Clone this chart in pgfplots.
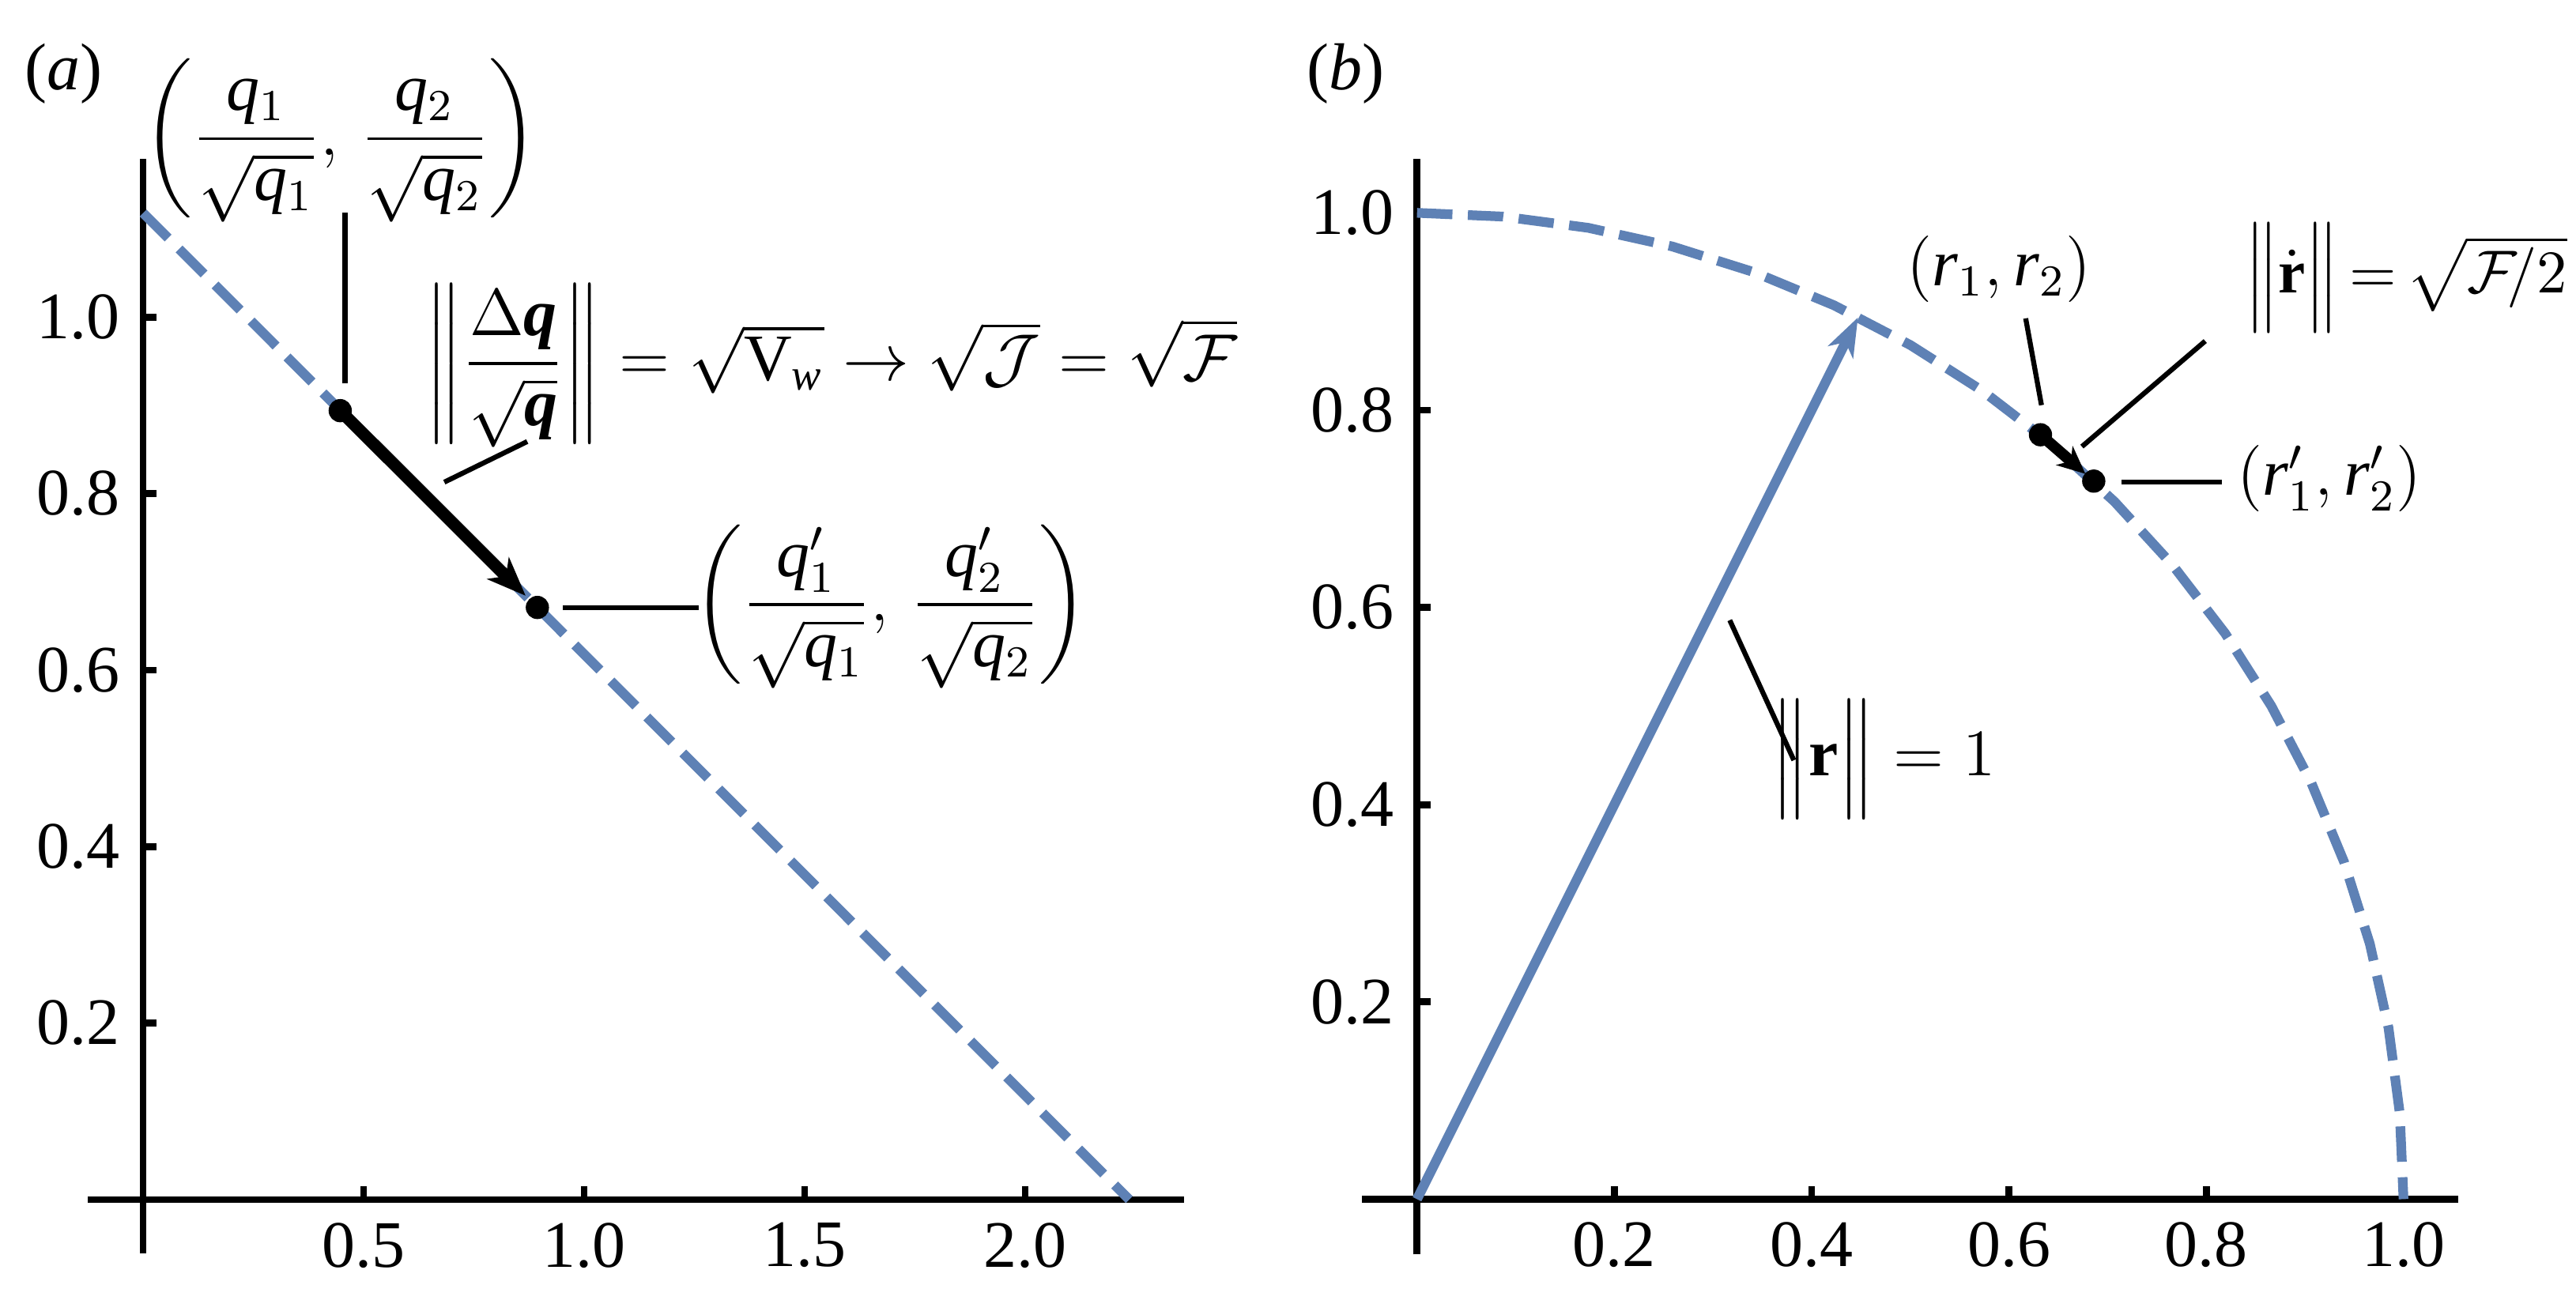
\documentclass[border=0pt,12pt]{standalone}
\usepackage{amsmath}
\usepackage{fontspec}
\setmainfont{Liberation Serif}
\usepackage{pgfplots}
\pgfplotsset{compat=1.18}
\usetikzlibrary{arrows.meta}

\definecolor{mblue}{rgb}{0.368,0.507,0.710}

\pgfplotsset{
  mma/.style={
    axis lines=middle,
    axis line style={-, line width=1.25pt},
    tick align=inside,
    major tick length=2.4pt,
    tick style={black, line width=1.25pt},
    tick label style={font=\fontsize{12}{14}\selectfont},
    /pgf/number format/fixed,
    /pgf/number format/fixed zerofill,
    /pgf/number format/precision=1,
    /pgf/number format/assume math mode=true,
    clip=false,
    anchor=origin,
  },
  lead/.style={black, line width=0.9pt, forget plot},
  dot/.style={black, only marks, mark=*, mark size=1.9pt},
}

\begin{document}
\begin{tikzpicture}
\useasboundingbox (0,0) rectangle (465.57pt,234.86pt);

% (a) the line q1 + q2 = 1 in the coordinates q/sqrt(q)
\begin{axis}[mma, at={(25.86pt,18pt)}, x=79.71pt, y=159.53pt,
  xmin=-0.125, xmax=2.36, ymin=-0.061, ymax=1.179,
  xtick={0.5,1,1.5,2}, ytick={0.2,0.4,0.6,0.8,1.0}]
\addplot[mblue, line width=1.75pt, dash pattern=on 6.4pt off 2.8pt] coordinates {(0,1.118) (2.236,0)};
\addplot[lead] coordinates {(0.458,0.925) (0.458,1.118)};
\addplot[lead] coordinates {(0.683,0.813) (0.871,0.859)};
\addplot[lead] coordinates {(0.952,0.671) (1.26,0.671)};
\addplot[black, line width=2.2pt, -{Stealth[length=7pt,width=5.5pt,inset=2pt]}, shorten >=3pt] coordinates {(0.447,0.894) (0.894,0.671)};
\addplot[dot] coordinates {(0.447,0.894) (0.894,0.671)};
\node at (axis cs:-0.181,1.276) {(\textit{a})};
\node at (axis cs:0.448,1.200) {$\left(\dfrac{\mathit{q}_1}{\sqrt{\mathit{q}_1}},\,\dfrac{\mathit{q}_2}{\sqrt{\mathit{q}_2}}\right)$};
\node[anchor=west, inner sep=0pt] at (axis cs:0.638,0.945) {$\left\|\dfrac{\Delta\text{\bfseries\itshape q}}{\sqrt{\text{\bfseries\itshape q}}}\right\| = \sqrt{\mathrm{V}_{\mathit{w}}}\rightarrow\sqrt{\mathcal{J}} = \sqrt{\mathcal{F}}$};
\node at (axis cs:1.695,0.672) {$\left(\dfrac{\mathit{q}'_1}{\sqrt{\mathit{q}_1}},\,\dfrac{\mathit{q}'_2}{\sqrt{\mathit{q}_2}}\right)$};
\end{axis}

% (b) the unit circle in the coordinates r = sqrt(q)
\begin{axis}[mma, at={(256.1pt,18.09pt)}, x=178.29pt, y=178.29pt,
  xmin=-0.0556, xmax=1.0555, ymin=-0.056, ymax=1.055,
  xtick={0.2,0.4,0.6,0.8,1.0}, ytick={0.2,0.4,0.6,0.8,1.0}]
\addplot[mblue, line width=1.75pt, dash pattern=on 6.4pt off 2.8pt] coordinates {
  (0,1) (0.0872,0.9962) (0.1736,0.9848) (0.2588,0.9659) (0.3420,0.9397)
  (0.4226,0.9063) (0.5,0.8660) (0.5736,0.8192) (0.6428,0.7660) (0.7071,0.7071)
  (0.7660,0.6428) (0.8192,0.5736) (0.8660,0.5) (0.9063,0.4226) (0.9397,0.3420)
  (0.9659,0.2588) (0.9848,0.1736) (0.9962,0.0872) (1,0)};
\addplot[mblue, line width=1.75pt, -{Stealth[length=7pt,width=5pt,inset=2pt]}] coordinates {(0,0) (0.447,0.894)};
\addplot[lead] coordinates {(0.617,0.893) (0.633,0.805)};
\addplot[lead] coordinates {(0.799,0.870) (0.674,0.763)};
\addplot[lead] coordinates {(0.714,0.727) (0.816,0.727)};
\addplot[lead] coordinates {(0.317,0.587) (0.382,0.445)};
\addplot[black, line width=2pt, -{Stealth[length=5pt,width=4.5pt,inset=1.5pt]}, shorten >=2pt] coordinates {(0.632,0.775) (0.686,0.728)};
\addplot[dot] coordinates {(0.632,0.775) (0.686,0.728)};
\node at (axis cs:-0.072,1.141) {(\textit{b})};
\node at (axis cs:0.590,0.943) {$(\mathit{r}_1, \mathit{r}_2)$};
\node[anchor=west, inner sep=0pt, font=\fontsize{11}{13}\selectfont] at (axis cs:0.838,0.934) {$\Big\|\dot{\mathbf{r}}\Big\|\,{=}\,\sqrt{\mathcal{F}\!/2}$};
\node at (axis cs:0.925,0.731) {$(\mathit{r}'_1, \mathit{r}'_2)$};
\node at (axis cs:0.473,0.446) {$\Big\|\mathbf{r}\Big\| = 1$};
\end{axis}
\end{tikzpicture}
\end{document}
